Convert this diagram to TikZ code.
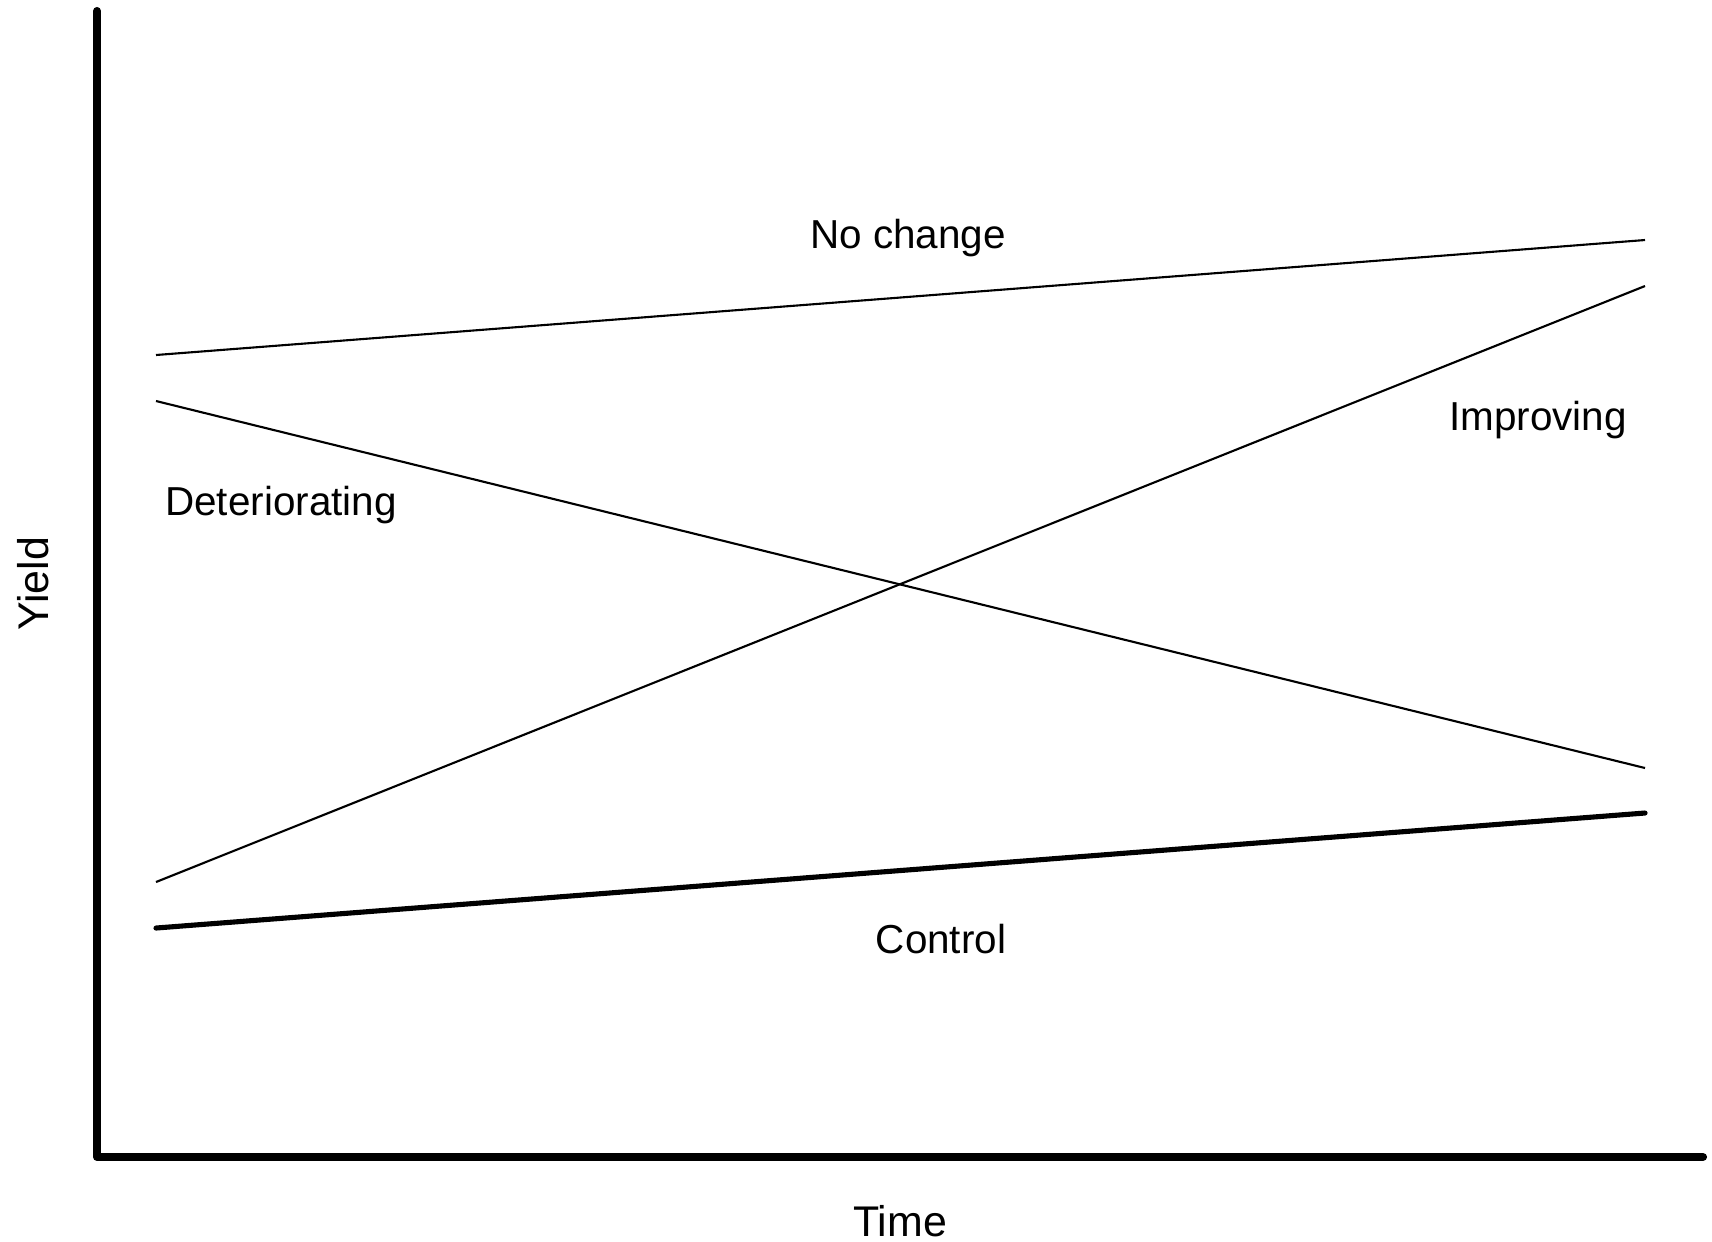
\documentclass[tikz,border=0pt]{standalone}
\usepackage{fontspec}
\setmainfont{Liberation Sans}
\usepackage{tikz}

\begin{document}
\begin{tikzpicture}[
		x=0.01cm, y=-0.01cm,
		every node/.style={inner sep=0pt, font=\fontsize{11.5}{13}\selectfont},
		axislabel/.style={font=\fontsize{12.2}{14}\selectfont},
		axis/.style={line width=2.3pt, line cap=round, line join=round},
		trend/.style={line width=0.6pt},
		control/.style={line width=1.45pt, line cap=round}
	]
  \useasboundingbox (0,0) rectangle (1712,1241);
  \coordinate (top) at (97,11);
  \coordinate (origin) at (97,1157);
  \coordinate (right) at (1703,1157);
  \coordinate (n0) at (156,355);
  \coordinate (n1) at (1645,240);
  \coordinate (d0) at (156,401);
  \coordinate (d1) at (1645,768);
  \coordinate (i0) at (156,882);
  \coordinate (i1) at (1645,286);
  \coordinate (c0) at (156,928);
  \coordinate (c1) at (1645,813);

  \node (nolab) [anchor=base] at (908,248) {No change};
  \node (implab) [anchor=base] at (1538,430) {Improving};
  \node (detlab) [anchor=base] at (281,515) {Deteriorating};
  \node (conlab) [anchor=base] at (941,953) {Control};
  \node (xlab) [axislabel, anchor=base] at (900,1236) {Time};
  \node (ylab) [axislabel, anchor=base, rotate=90] at (48,584) {Yield};

  \draw [axis] (top) -- (origin) -- (right);
  \draw [trend] (n0) -- (n1);
  \draw [trend] (d0) -- (d1);
  \draw [trend] (i0) -- (i1);
  \draw [control] (c0) -- (c1);
\end{tikzpicture}
\end{document}
